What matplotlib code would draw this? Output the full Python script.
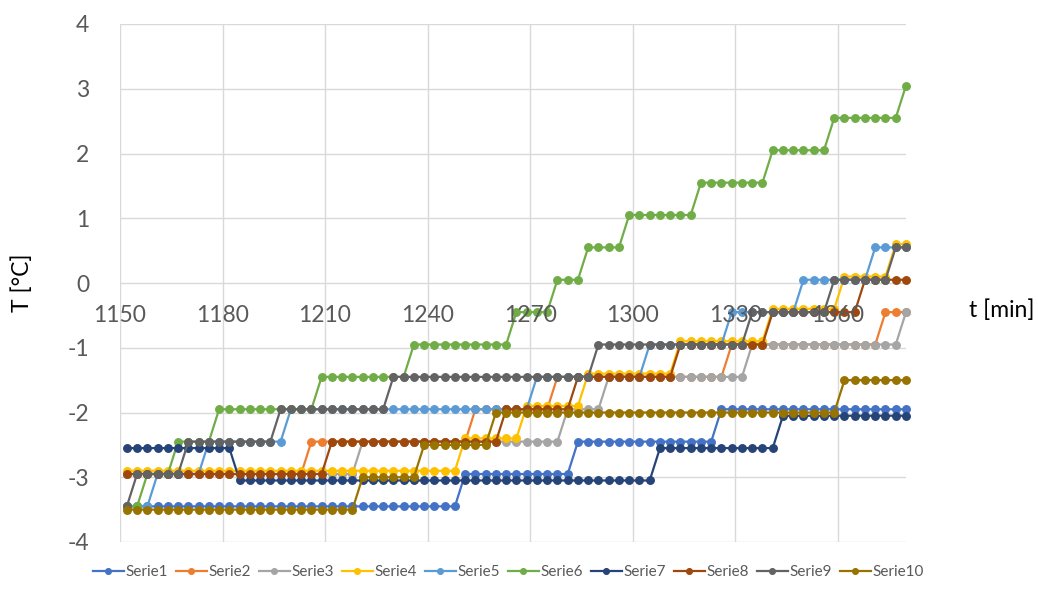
import numpy as np
import matplotlib.pyplot as plt

plt.rcParams['font.family'] = ['Lato', 'DejaVu Sans']
plt.rcParams['axes.unicode_minus'] = False

# sampling: one reading every 3 minutes
t_start = 1152
t_step = 3
n_samples = 77

# each series is a staircase: temperature level and how many samples it holds
serie1_levels = [-3.45, -2.95, -2.45, -1.95]
serie1_counts = [33, 11, 14, 19]

serie2_levels = [-2.95, -2.45, -1.95, -1.45, -0.95, -0.45]
serie2_counts = [18, 16, 8, 17, 15, 3]

serie3_levels = [-2.95, -2.45, -1.95, -1.45, -0.95, -0.45]
serie3_counts = [23, 20, 4, 14, 15, 1]

serie4_levels = [-2.9, -2.4, -1.9, -1.4, -0.9, -0.4, 0.1, 0.6]
serie4_counts = [33, 6, 6, 9, 9, 7, 5, 2]

serie5_levels = [-3.45, -2.95, -2.45, -1.95, -1.45, -0.95, -0.45, 0.05, 0.55]
serie5_counts = [3, 5, 8, 24, 11, 8, 7, 7, 4]

serie6_levels = [-3.45, -2.95, -2.45, -1.95, -1.45, -0.95, -0.45, 0.05, 0.55,
                 1.05, 1.55, 2.05, 2.55, 3.05]
serie6_counts = [2, 3, 4, 10, 9, 10, 4, 3, 4, 7, 7, 6, 7, 1]

serie7_levels = [-2.55, -3.05, -2.55, -2.05]
serie7_counts = [11, 41, 12, 13]

serie8_levels = [-2.95, -2.45, -1.95, -1.45, -0.95, -0.45, 0.05]
serie8_counts = [20, 17, 7, 10, 9, 9, 5]

serie9_levels = [-3.45, -2.95, -2.45, -1.95, -1.45, -0.95, -0.45, 0.05, 0.55]
serie9_counts = [1, 5, 9, 11, 20, 15, 8, 6, 2]

serie10_levels = [-3.5, -3.0, -2.5, -2.0, -1.5]
serie10_counts = [23, 6, 7, 34, 7]

series = [
    ('Serie1', serie1_levels, serie1_counts, '#4472C4'),
    ('Serie2', serie2_levels, serie2_counts, '#ED7D31'),
    ('Serie3', serie3_levels, serie3_counts, '#A5A5A5'),
    ('Serie4', serie4_levels, serie4_counts, '#FFC000'),
    ('Serie5', serie5_levels, serie5_counts, '#5B9BD5'),
    ('Serie6', serie6_levels, serie6_counts, '#70AD47'),
    ('Serie7', serie7_levels, serie7_counts, '#264478'),
    ('Serie8', serie8_levels, serie8_counts, '#9E480E'),
    ('Serie9', serie9_levels, serie9_counts, '#636363'),
    ('Serie10', serie10_levels, serie10_counts, '#997300'),
]

t = t_start + t_step * np.arange(n_samples)
x_ticks = np.arange(1150, 1381, 30)
y_ticks = np.arange(-4, 5, 1)

fig = plt.figure(figsize=(10.38, 5.9), dpi=100)
ax = fig.add_axes([120 / 1038, 48 / 590, 786 / 1038, 518 / 590])

# grid drawn by hand so it stays under the lines while tick labels sit on top
for xv in x_ticks:
    ax.axvline(xv, color='#d9d9d9', lw=1.0, zorder=0.5)
for yv in y_ticks:
    ax.axhline(yv, color='#d9d9d9', lw=1.0, zorder=0.5)

for name, levels, counts, color in series:
    y = np.repeat(levels, counts)
    ax.plot(t, y, color=color, lw=1.6, marker='o', ms=5.4, label=name,
            clip_on=False, zorder=2)

ax.set_xlim(1150, 1380)
ax.set_ylim(-4, 4)
ax.set_xticks(x_ticks)
ax.set_yticks(y_ticks)

for side in ['top', 'right', 'left', 'bottom']:
    ax.spines[side].set_visible(False)
# x labels hang under the zero line
ax.spines['bottom'].set_position(('data', 0))
ax.xaxis.set_zorder(5)

ax.tick_params(axis='x', length=0, pad=16, labelsize=16.5, labelcolor='#595959')
ax.tick_params(axis='y', length=0, pad=22, labelsize=16.5, labelcolor='#595959')

fig.text(0.021, 0.52, 'T [°C]', rotation=90, ha='center', va='center',
         fontsize=16.5, color='black')
fig.text(0.965, 0.475, 't [min]', ha='center', va='center',
         fontsize=16.5, color='black')

fig.legend(loc='lower center', bbox_to_anchor=(0.49, -0.005), ncol=10,
           frameon=False, fontsize=11, labelcolor='#595959',
           handlelength=2.0, handletextpad=0.15, columnspacing=0.5,
           markerscale=0.75)

fig.savefig('out.png', dpi=100)
